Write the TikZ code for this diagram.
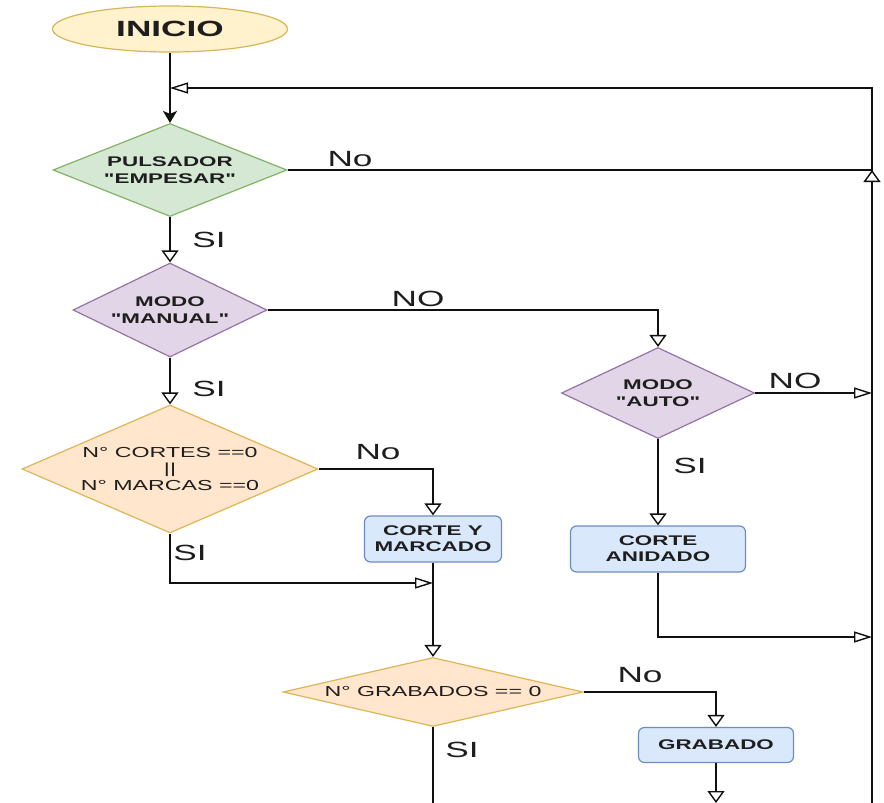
\documentclass[tikz,border=0pt]{standalone}
\usepackage{fontspec}
\setmainfont{Liberation Sans}[FakeStretch=1.6]
% same face without the TeX quote mapping, for straight quotes
\newfontfamily\plainquote{Liberation Sans}[FakeStretch=1.6]
\usetikzlibrary{shapes.geometric, arrows.meta}

\definecolor{txtC}{HTML}{1E1E1E}
\definecolor{lineC}{HTML}{101010}
\definecolor{yellowF}{HTML}{FFF2CC}
\definecolor{yellowD}{HTML}{D6B656}
\definecolor{greenF}{HTML}{D5E8D4}
\definecolor{greenD}{HTML}{82B366}
\definecolor{purpleF}{HTML}{E1D5E7}
\definecolor{purpleD}{HTML}{9673A6}
\definecolor{orangeF}{HTML}{FFE6CC}
\definecolor{orangeD}{HTML}{DDB656}
\definecolor{blueF}{HTML}{DAE8FC}
\definecolor{blueD}{HTML}{6C8EBF}

% straight double quote
\newcommand{\dq}{{\plainquote\symbol{34}}}

\begin{document}
\begin{tikzpicture}[x=1pt, y=-1pt,
  line/.style={draw=lineC, line width=1.4pt},
  varr/.style={line, -{Triangle[open, length=12pt, width=17pt]}},
  harr/.style={line, -{Triangle[open, length=18pt, width=11pt]}},
  farr/.style={line, -{Stealth[length=12pt, width=14pt, inset=3pt]}},
  dia/.style={shape=diamond, line width=1.2pt, inner sep=0pt, text=txtC,
    font=\bfseries\fontsize{14}{16.7}\selectfont, align=center},
  diathin/.style={dia, font=\fontsize{14.5}{16.7}\selectfont},
  procbox/.style={rectangle, rounded corners=6pt, draw=blueD, fill=blueF,
    line width=1.2pt, inner sep=0pt, text=txtC,
    font=\bfseries\fontsize{14}{16}\selectfont, align=center},
  lbl/.style={inner sep=0pt, text=txtC, font=\fontsize{22}{24}\selectfont},
]
\fill[white] (0,0) rectangle (884,803);
\useasboundingbox (0,0) rectangle (884,803);

% start terminal
\node[ellipse, draw=yellowD, fill=yellowF, line width=1.2pt, inner sep=0pt,
  minimum width=235pt, minimum height=46pt, text=txtC,
  font=\bfseries\fontsize{22}{24}\selectfont] (inicio) at (170,29) {INICIO};

% decisions
\node[dia, draw=greenD, fill=greenF, minimum width=234pt, minimum height=93pt,
  aspect=2.52] (puls) at (170,170) {PULSADOR\\\dq EMPESAR\dq};
\node[dia, draw=purpleD, fill=purpleF, minimum width=194pt, minimum height=94pt,
  aspect=2.06] (manual) at (170,310) {MODO\\\dq MANUAL\dq};
\node[diathin, draw=orangeD, fill=orangeF, minimum width=296pt, minimum height=128pt,
  aspect=2.31] (cortes) at (170,469) {N° CORTES ==0\\||\\N° MARCAS ==0};
\node[dia, draw=purpleD, fill=purpleF, minimum width=193pt, minimum height=91pt,
  aspect=2.12] (auto) at (658,393) {MODO\\\dq AUTO\dq};
\node[diathin, draw=orangeD, fill=orangeF, minimum width=300pt, minimum height=69pt,
  aspect=4.35] (grab0) at (433,692) {N° GRABADOS == 0};

% processes
\node[procbox, minimum width=137pt, minimum height=46pt] (cym) at (433,539) {CORTE Y\\MARCADO};
\node[procbox, minimum width=175pt, minimum height=46pt] (anidado) at (658,549) {CORTE\\ANIDADO};
\node[procbox, minimum width=155pt, minimum height=35pt] (grabado) at (716,745) {GRABADO};

% routing points
\coordinate (rtop) at (872,88);
\coordinate (rjoin) at (872,170);
\coordinate (rbot) at (872,803);
\coordinate (j1) at (433,583);
\coordinate (j2) at (872,637);

% connectors
\draw[farr] (inicio.south) -- (puls.north);
\draw[harr] (puls.east) -- (rjoin) -- (rtop) -- (rtop -| inicio.south);
\draw[varr] (rbot) -- (rjoin);
\draw[varr] (puls.south) -- (manual.north);
\draw[varr] (manual.east) -| (auto.north);
\draw[varr] (manual.south) -- (cortes.north);
\draw[varr] (cortes.east) -| (cym.north);
\draw[harr] (cortes.south) |- (j1);
\draw[varr] (cym.south) -- (grab0.north);
\draw[harr] (auto.east) -- (auto.east -| rbot);
\draw[varr] (auto.south) -- (anidado.north);
\draw[harr] (anidado.south) |- (j2);
\draw[varr] (grab0.east) -| (grabado.north);
\draw[varr] (grabado.south) -- (grabado.south |- rbot);
\draw[line] (grab0.south) -- (grab0.south |- rbot);

% branch labels
\node[lbl] (l1) at (350,159) {No};
\node[lbl] (l2) at (209,240) {SI};
\node[lbl] (l3) at (418,299) {NO};
\node[lbl] (l4) at (209,389) {SI};
\node[lbl] (l5) at (378,452) {No};
\node[lbl] (l6) at (190,553) {SI};
\node[lbl] (l7) at (795,381) {NO};
\node[lbl] (l8) at (690,466) {SI};
\node[lbl] (l9) at (640,675) {No};
\node[lbl] (l10) at (462,750) {SI};
\end{tikzpicture}
\end{document}
